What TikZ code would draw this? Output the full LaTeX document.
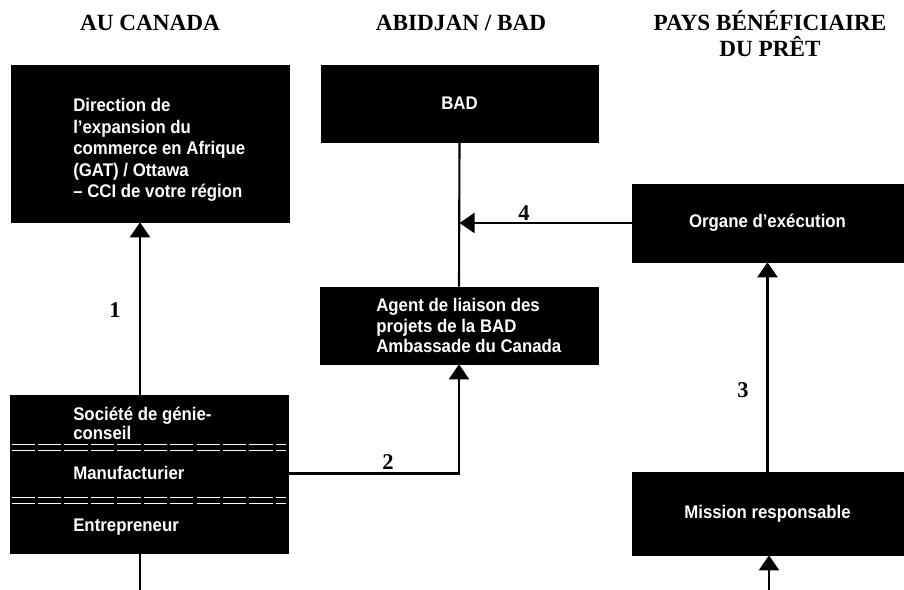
\documentclass[tikz,border=0pt]{standalone}
\usepackage{fontspec}
\setmainfont{Liberation Serif}
\newfontfamily\boxfont{Liberation Sans}[FakeStretch=0.92]
\usepackage{tikz}
\usetikzlibrary{arrows.meta}
\tikzstyle{blackbox} = [rectangle, draw=black, fill=black, inner sep=0pt, text=white, font=\boxfont\bfseries\fontsize{13}{15}\selectfont]
\tikzstyle{boxtext} = [anchor=base west, inner sep=0pt, text=white, align=left, font=\boxfont\bfseries\fontsize{13}{15.3}\selectfont]
\tikzstyle{heading} = [anchor=base, inner sep=0pt, font=\bfseries\fontsize{16.5}{18.5}\selectfont]
\tikzstyle{num} = [inner sep=0pt, font=\bfseries\fontsize{16}{18}\selectfont]
\tikzstyle{arrow} = [line width=1.5pt, -{Triangle[length=0.375cm, width=0.5cm]}]
\tikzstyle{link} = [line width=1.5pt]
\tikzstyle{divider} = [white, line width=0.7pt, dash pattern=on 0.58cm off 0.08cm]

\begin{document}
\begin{tikzpicture}[x=0.025cm, y=-0.025cm]
	\useasboundingbox (0,0) rectangle (904,590);
	
	\node (hcanada) [heading] at (150,31) {AU CANADA};
	\node (habidjan) [heading] at (461,31) {ABIDJAN / BAD};
	\node (hpays) [heading] at (770,31) {PAYS BÉNÉFICIAIRE};
	\node (hpret) [heading] at (770,57) {DU PRÊT};
	
	\node (dir) [blackbox, minimum width=6.95cm, minimum height=3.925cm] at (150,143.5) {};
	\node (dirtext) [boxtext] at (73,198) {Direction de\\l’expansion du\\commerce en Afrique\\(GAT) / Ottawa\\– CCI de votre région};
	
	\node (bad) [blackbox, minimum width=6.925cm, minimum height=1.925cm] at (459.5,103.5) {BAD};
	
	\node (organe) [blackbox, minimum width=6.775cm, minimum height=1.95cm] at (767.5,223) {Organe d’exécution};
	
	\node (agent) [blackbox, minimum width=6.95cm, minimum height=1.925cm] at (459,325.5) {};
	\node (agenttext) [boxtext, font=\boxfont\bfseries\fontsize{13}{14.6}\selectfont] at (376,353) {Agent de liaison des\\projets de la BAD\\Ambassade du Canada};
	
	\node (stack) [blackbox, minimum width=6.95cm, minimum height=3.95cm] at (149,474) {};
	\foreach \d in {1.25,1.4,2.575,2.725}
		\draw [divider] ([xshift=0.05cm, yshift=-\d cm]stack.north west) -- ([xshift=-0.05cm, yshift=-\d cm]stack.north east);
	\node (societe) [boxtext, font=\boxfont\bfseries\fontsize{13}{14.2}\selectfont] at (73,440) {Société de génie-\\conseil};
	\node (manu) [boxtext] at (73,480) {Manufacturier};
	\node (entre) [boxtext] at (73,532) {Entrepreneur};
	
	\node (mission) [blackbox, minimum width=6.775cm, minimum height=2.075cm] at (767.5,513.5) {Mission responsable};
	
	\coordinate (bottomleft) at (140,590);
	\coordinate (bottomright) at (769,590);
	
	\draw [arrow] (stack.north -| bottomleft) -- (dir.south -| bottomleft);
	\draw [link] (stack.south -| bottomleft) -- (bottomleft);
	\draw [arrow] (manu -| stack.east) -- (manu -| agent.south) -- (agent.south);
	\draw [link] (bad.south) -- (agent.north);
	\draw [arrow] (organe.west) -- (organe.west -| bad.south);
	\draw [arrow] (mission.north) -- (organe.south);
	\draw [arrow] (bottomright) -- (bottomright |- mission.south);
	
	\node (n1) [num] at (115,310) {1};
	\node (n2) [num] at (388,462) {2};
	\node (n3) [num] at (743,390) {3};
	\node (n4) [num] at (524,213) {4};
	
\end{tikzpicture}
\end{document}
